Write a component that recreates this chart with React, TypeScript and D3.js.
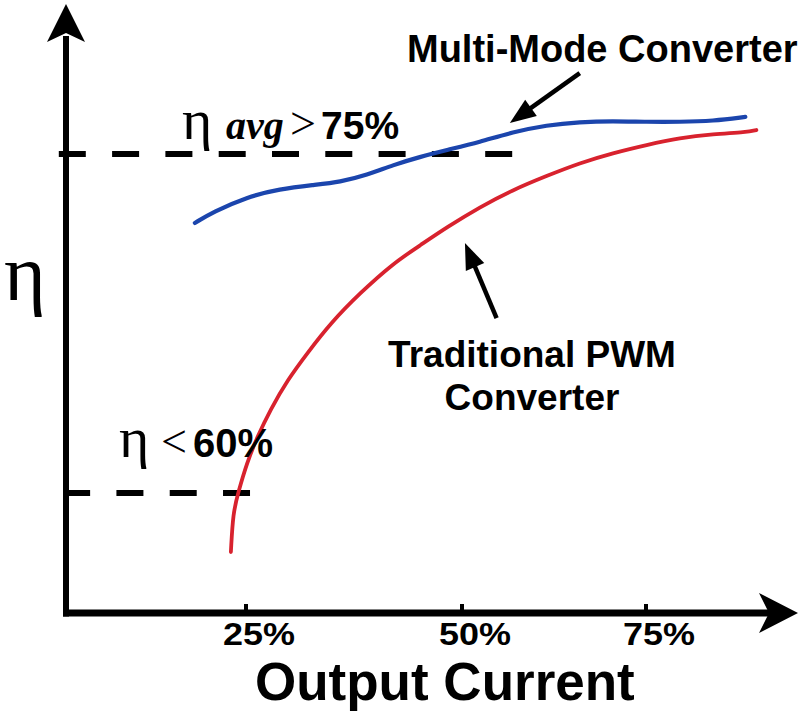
import React from "react";
import * as d3 from "d3";

// Output current (%) and efficiency (%) for the two converters
const multiModeX = [17.9, 20.4, 25.1, 28.9, 32.8, 35.9, 39.0, 42.0, 45.1, 48.3, 52.4, 56.9, 61.5, 66.0, 70.5, 75.1, 79.6, 84.1, 88.5];
const multiModeY = [71.95, 72.43, 73.1, 73.45, 73.63, 73.76, 74.07, 74.51, 74.87, 75.18, 75.53, 75.97, 76.28, 76.42, 76.46, 76.42, 76.42, 76.46, 76.64];

const pwmX = [22.9, 23.2, 23.9, 25.1, 26.3, 27.8, 29.8, 32.1, 34.8, 38.2, 42.1, 45.2, 48.3, 52.4, 56.9, 61.5, 66.0, 70.5, 75.1, 79.6, 84.1, 88.7, 90.0];
const pwmY = [57.39, 59.12, 60.0, 61.33, 62.48, 63.67, 65.0, 66.19, 67.52, 68.85, 70.18, 70.97, 71.77, 72.65, 73.41, 74.03, 74.6, 75.04, 75.4, 75.71, 75.88, 75.97, 76.06];

const xTicks = [25, 50, 75];
const xTickLabels = ["25%", "50%", "75%"];

// reference levels: [value, x-start %, x-end %]
const guideValues = [75, 60];
const guideStarts = [-1.0, -0.4];
const guideEnds = [57.2, 25.8];

// annotation arrows: tail and tip in data units
const arrowTailX = [66.0, 54.7];
const arrowTailY = [78.58, 67.74];
const arrowTipX = [56.5, 50.4];
const arrowTipY = [76.37, 71.06];

const BLUE = "#1b45ad";
const RED = "#d8222e";
const SANS = "'Liberation Sans', Arial, sans-serif";
const SERIF = "'Liberation Serif', 'Times New Roman', serif";

export default function App() {
  const W = 800;
  const H = 711;
  const x = d3.scaleLinear().domain([0, 25, 50, 75, 100]).range([66, 246, 462, 646, 830]);
  const y = d3.scaleLinear().domain([60, 75]).range([493, 154]);

  const line = d3
    .line<[number, number]>()
    .x((d) => x(d[0]))
    .y((d) => y(d[1]))
    .curve(d3.curveBasis);

  const blue = line(multiModeX.map((v, i) => [v, multiModeY[i]] as [number, number])) || "";
  const red = line(pwmX.map((v, i) => [v, pwmY[i]] as [number, number])) || "";

  const axisX0 = x(0);
  const axisY0 = 613;

  const arrowHead = (tx: number, ty: number, fx: number, fy: number, len: number, half: number) => {
    const a = Math.atan2(ty - fy, tx - fx);
    const bx = tx - len * Math.cos(a);
    const by = ty - len * Math.sin(a);
    const nx = -Math.sin(a);
    const ny = Math.cos(a);
    return `M${tx},${ty} L${bx + nx * half},${by + ny * half} L${bx - nx * half},${by - ny * half} Z`;
  };

  return (
    <svg
      width={W}
      height={H}
      viewBox={`0 0 ${W} ${H}`}
      style={{ position: "absolute", left: 0, top: 0, background: "#fff" }}
    >
      <rect width={W} height={H} fill="#fff" />

      {/* guide dashed lines */}
      {guideValues.map((v, i) => (
        <line
          key={"g" + i}
          x1={x(guideStarts[i])}
          x2={x(guideEnds[i])}
          y1={y(v)}
          y2={y(v)}
          stroke="#000"
          strokeWidth={6}
          strokeDasharray="27 26.3"
        />
      ))}

      {/* axes */}
      <line x1={axisX0} x2={axisX0} y1={36} y2={axisY0 + 3.5} stroke="#000" strokeWidth={6} />
      <path d={`M${axisX0},4 L${axisX0 + 19},42 L${axisX0},33 L${axisX0 - 19},42 Z`} fill="#000" />
      <line x1={axisX0 - 3} x2={772} y1={axisY0} y2={axisY0} stroke="#000" strokeWidth={7} />
      <path d={`M798,${axisY0} L759,${axisY0 - 20} L769,${axisY0} L759,${axisY0 + 20} Z`} fill="#000" />

      {xTicks.map((t, i) => (
        <g key={"t" + i}>
          <line x1={x(t)} x2={x(t)} y1={604} y2={axisY0} stroke="#000" strokeWidth={4} />
          <text
            x={x(t) + 13}
            y={645}
            textAnchor="middle"
            fontFamily={SANS}
            fontWeight="bold"
            fontSize={32}
            textLength={72}
            lengthAdjust="spacingAndGlyphs"
          >
            {xTickLabels[i]}
          </text>
        </g>
      ))}

      <text x={255} y={700} fontFamily={SANS} fontWeight="bold" fontSize={53}>
        Output Current
      </text>
      <text x={4} y={300} fontFamily={SERIF} fontSize={80}>
        η
      </text>

      {/* curves */}
      <path d={red} fill="none" stroke={RED} strokeWidth={3.8} strokeLinecap="round" />
      <path d={blue} fill="none" stroke={BLUE} strokeWidth={4.2} strokeLinecap="round" />

      {/* annotation arrows */}
      {arrowTipX.map((tx, i) => {
        const px = x(tx);
        const py = y(arrowTipY[i]);
        const fx = x(arrowTailX[i]);
        const fy = y(arrowTailY[i]);
        const a = Math.atan2(py - fy, px - fx);
        const ex = px - 20 * Math.cos(a);
        const ey = py - 20 * Math.sin(a);
        return (
          <g key={"a" + i}>
            <line x1={fx} y1={fy} x2={ex} y2={ey} stroke="#000" strokeWidth={4.5} />
            <path d={arrowHead(px, py, fx, fy, 26, 10)} fill="#000" />
          </g>
        );
      })}

      {/* labels */}
      <text x={407} y={62} fontFamily={SANS} fontWeight="bold" fontSize={38}>
        Multi-Mode Converter
      </text>
      <text x={532} y={367} textAnchor="middle" fontFamily={SANS} fontWeight="bold" fontSize={37}>
        Traditional PWM
      </text>
      <text x={532} y={410} textAnchor="middle" fontFamily={SANS} fontWeight="bold" fontSize={37}>
        Converter
      </text>

      <text y={139}>
        <tspan x={182} fontFamily={SERIF} fontSize={58}>η</tspan>
        <tspan x={226} fontFamily={SERIF} fontWeight="bold" fontStyle="italic" fontSize={40}>avg</tspan>
        <tspan x={290} fontFamily={SERIF} fontSize={46}>&gt;</tspan>
        <tspan x={321} fontFamily={SANS} fontWeight="bold" fontSize={39}>75%</tspan>
      </text>
      <text y={457}>
        <tspan x={119} fontFamily={SERIF} fontSize={58}>η</tspan>
        <tspan x={161} fontFamily={SERIF} fontSize={46}>&lt;</tspan>
        <tspan x={193} fontFamily={SANS} fontWeight="bold" fontSize={40}>60%</tspan>
      </text>
    </svg>
  );
}
